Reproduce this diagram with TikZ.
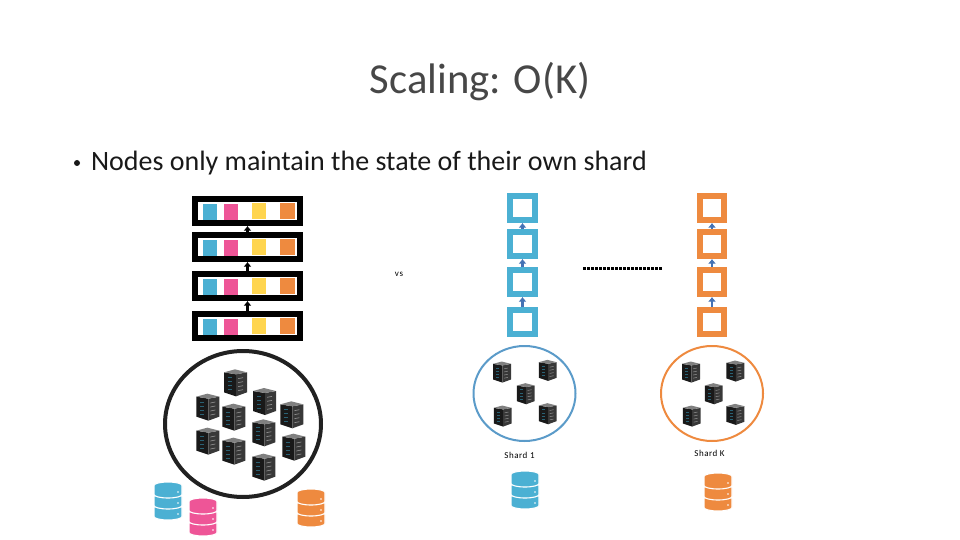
\documentclass[tikz,border=0pt]{standalone}
\usepackage{fontspec}
\usetikzlibrary{arrows.meta,shapes.geometric}
\setmainfont{Carlito}
\newfontfamily\smallfont[LetterSpace=6]{Carlito}
\definecolor{cblue}{HTML}{4BB0D3}
\definecolor{cpink}{HTML}{EE5597}
\definecolor{cyellow}{HTML}{FFD54F}
\definecolor{corange}{HTML}{EE8A3F}
\definecolor{carrow}{HTML}{4472B4}
\definecolor{cring}{HTML}{5B9BC9}
\tikzset{
  x=1pt,y=-1pt,
  blockbox/.style={draw=black,line width=6pt,fill=white,minimum width=105pt,minimum height=24pt,inner sep=0pt},
  chainb/.style={draw=cblue,line width=6pt,fill=white,minimum width=25pt,minimum height=24pt,inner sep=0pt},
  chaino/.style={draw=corange,line width=6pt,fill=white,minimum width=24pt,minimum height=24pt,inner sep=0pt},
  blkarrow/.style={draw=black,line width=2.5pt,-{Latex[length=4.5pt,width=8pt]}},
  bluearrow/.style={draw=carrow,line width=2.5pt,-{Latex[length=4.5pt,width=8pt]}},
  cell/.style={inner sep=0pt,minimum width=14pt,minimum height=16pt},
  smalllabel/.style={font=\fontsize{9}{10}\selectfont\smallfont},
  pics/server/.style={code={
    \fill[black!90] (-11,-10) -- (1,-8) -- (1,14) -- (-11,10) -- cycle;
    \fill[black!78] (1,-8) -- (12,-10) -- (12,10) -- (1,14) -- cycle;
    \fill[black!50] (-11,-10) -- (0,-13) -- (12,-10) -- (1,-8) -- cycle;
    \foreach \yy in {-4,0,4,8}{
      \fill[black!45] (3,\yy) -- (8,\yy-1) -- (8,\yy-.3) -- (3,\yy+.7) -- cycle;
      \fill[cblue!55!black] (-7,\yy-1) rectangle (-3,\yy-.2);
    }
  }},
  pics/dbstack/.style={code={
    \foreach \yy in {22,11,0}{
      \filldraw[fill=#1,draw=white,line width=1.1pt] (0,\yy+3.5) -- (0,\yy+12.5) arc[start angle=180,end angle=0,x radius=14,y radius=3.5] -- (28,\yy+3.5) arc[start angle=0,end angle=-180,x radius=14,y radius=3.5] -- cycle;
      \fill[white] (24,\yy+10) circle[radius=.8];
    }
  }},
}
\begin{document}
\begin{tikzpicture}
\useasboundingbox (0,0) rectangle (960,540);
% title and bullet
\node[font=\fontsize{42.7}{48}\selectfont,text=black!72] (title) at (480,82) {Scaling: O(K)};
\node[font=\fontsize{28}{32}\selectfont,text=black!90,anchor=west] (bullet) at (87.5,163.5) {Nodes only maintain the state of their own shard};
\fill[black!90] (77,163) circle[radius=3];
% full-replication chain
\foreach \nm/\yy in {ba/211,bb/247,bc/286,bd/326}{
  \node[blockbox] (\nm) at (247.5,\yy) {};
  \node[cell,fill=cblue] (\nm1) at (210,\yy+1) {};
  \node[cell,fill=cpink] (\nm2) at (231,\yy+1) {};
  \node[cell,fill=cyellow] (\nm3) at (259,\yy) {};
  \node[cell,fill=corange,minimum width=15pt] (\nm4) at (287.5,\yy) {};
}
\draw[blkarrow] (bb) -- (ba);
\draw[blkarrow] (bc) -- (bb);
\draw[blkarrow] (bd) -- (bc);
% shard chains
\foreach \nm/\yy in {sa/208,sb/244,sc/282,sd/322}{
  \node[chainb] (\nm) at (522.5,\yy) {};
  \node[chaino] (k\nm) at (712,\yy) {};
}
\draw[bluearrow] (sb) -- (sa);
\draw[bluearrow] (sc) -- (sb);
\draw[bluearrow] (sd) -- (sc);
\draw[bluearrow] (ksb) -- (ksa);
\draw[bluearrow] (ksc) -- (ksb);
\draw[bluearrow] (ksd) -- (ksc);
% labels
\node[smalllabel] (vs) at (399,274.5) {vs};
\coordinate (dotsa) at (583,268.5);
\coordinate (dotsb) at (662,268.5);
\draw[line width=3pt,dash pattern=on 2.6pt off 1.4pt] (dotsa) -- (dotsb);
\node[smalllabel] (shone) at (519.5,455) {Shard 1};
\node[smalllabel] (shk) at (709.5,453) {Shard K};
% circles
\node[draw=black!87,line width=4pt,ellipse,minimum width=156pt,minimum height=146pt,inner sep=0pt] (big) at (243,424) {};
\node[draw=cring,line width=2pt,ellipse,minimum width=102pt,minimum height=95pt,inner sep=0pt] (cone) at (524.5,393.5) {};
\node[draw=corange,line width=2pt,ellipse,minimum width=102pt,minimum height=95pt,inner sep=0pt] (ck) at (712,393.5) {};
% servers
\foreach \X/\Y in {172/185,255/112,250/215,172/287,250/317,342/168,424/208,340/262,430/305,340/365}{
  \pic[scale=1.0] at ({150+\X/3},{345+\Y/3}) {server};
}
\foreach \X/\Y in {125/95,262/90,196/160,127/227,262/220}{
  \pic[scale=.78] at ({460+\X/3},{340+\Y/3}) {server};
}
\foreach \X/\Y in {122/95,255/92,190/160,124/227,255/222}{
  \pic[scale=.78] at ({650+\X/3},{340+\Y/3}) {server};
}
% databases
\pic at (154,482) {dbstack=cblue};
\pic at (189,498) {dbstack=cpink};
\pic at (297,489) {dbstack=corange};
\pic at (511,471) {dbstack=cblue};
\pic at (704,473) {dbstack=corange};
\end{tikzpicture}
\end{document}
